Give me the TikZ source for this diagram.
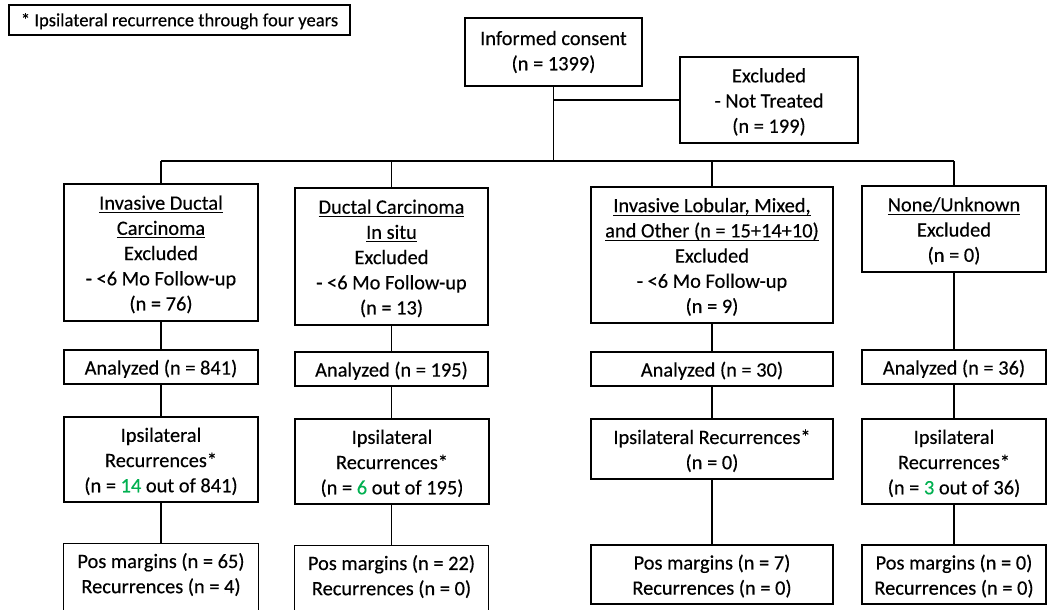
\documentclass[tikz,border=0pt]{standalone}
\usepackage{fontspec}
\setmainfont{Carlito}[FakeBold=0.3]
\definecolor{grn}{HTML}{00B050}
\newcommand\uln[1]{\setbox0\hbox{#1}\rlap{\rule[-3.4pt]{\wd0}{1pt}}\box0}
\newcommand\tb{\rule{0pt}{22.5pt}}
\newcommand\te{\rule[-7.35pt]{0pt}{7.35pt}}
\begin{document}
\begin{tikzpicture}[x=1pt,y=-1pt,
  txt/.style={inner sep=0pt, align=center,
    font=\fontsize{20.4}{25.2}\selectfont},
  box/.style={txt, draw=black, line width=1.1pt},
  conn/.style={draw=black, line width=1.1pt}]
\useasboundingbox (0,0) rectangle (1047,610);
\clip (0,0) rectangle (1047,610);
\fill[white] (0,0) rectangle (1047,610);

% note
\node[box, font=\fontsize{18.6}{22}\selectfont, minimum width=341, minimum height=30] (note) at (179.5,20) {\rule{0pt}{19pt}* Ipsilateral recurrence through four years\rule[-6.5pt]{0pt}{6.5pt}};

% top
\node[box, minimum width=177, minimum height=68] (consent) at (553.5,52) {Informed consent\\(n = 1399)};
\node[box, minimum width=178, minimum height=86] (excl) at (769,100) {\tb Excluded\\- Not Treated\\(n = 199)\te};

\coordinate (bj) at (553.5,100);
\coordinate (bus) at (553.5,161);
\coordinate (b1) at (161,161);
\coordinate (b2) at (391.5,161);
\coordinate (b3) at (712,161);
\coordinate (b4) at (954,161);

% row A
\node[box, minimum width=194, minimum height=137] (idc) at (161,252.5) {\tb\uln{Invasive Ductal}\\\uln{Carcinoma}\\Excluded\\- <6 Mo Follow-up\\(n = 76)\te};
\node[box, minimum width=193, minimum height=137] (dcis) at (391.5,256.5) {\tb\uln{Ductal Carcinoma}\\\uln{In situ}\\Excluded\\- <6 Mo Follow-up\\(n = 13)\te};
\node[box, minimum width=242, minimum height=136] (ilmo) at (712,255) {\tb\uln{Invasive Lobular, Mixed,}\\\uln{and Other (n = 15+14+10)}\\Excluded\\- <6 Mo Follow-up\\(n = 9)\te};
\node[box, minimum width=184, minimum height=86] (none) at (954,229) {\tb\uln{None/Unknown}\\Excluded\\(n = 0)\te};

% row B
\node[box, minimum width=194, minimum height=34] (a1) at (161,367) {\tb Analyzed (n = 841)\te};
\node[box, minimum width=193, minimum height=34] (a2) at (391.5,369) {\tb Analyzed (n = 195)\te};
\node[box, minimum width=242, minimum height=34] (a3) at (712,369) {\tb Analyzed (n = 30)\te};
\node[box, minimum width=184, minimum height=34] (a4) at (954,367) {\tb Analyzed (n = 36)\te};

% row C
\node[box, minimum width=194, minimum height=85] (i1) at (161,459.5) {\tb Ipsilateral\\Recurrences*\\(n = \textcolor{grn}{14} out of 841)\te};
\node[box, minimum width=194, minimum height=85] (i2) at (392,461.5) {\tb Ipsilateral\\Recurrences*\\(n = \textcolor{grn}{6} out of 195)\te};
\node[box, minimum width=242, minimum height=60] (i3) at (712,449) {\tb Ipsilateral Recurrences*\\(n = 0)\te};
\node[box, minimum width=184, minimum height=85] (i4) at (954,461.5) {\tb Ipsilateral\\Recurrences*\\(n = \textcolor{grn}{3} out of 36)\te};

% row D
\node[txt, minimum width=194, minimum height=59] (p1) at (161,573) {\tb Pos margins (n = 65)\\Recurrences (n = 4)\te};
\draw[conn] (p1.north west) rectangle ([yshift=-30pt]p1.south east);
\node[txt, minimum width=193, minimum height=59] (p2) at (391.5,575) {\tb Pos margins (n = 22)\\Recurrences (n = 0)\te};
\draw[conn] (p2.north west) rectangle ([yshift=-30pt]p2.south east);
\node[box, minimum width=242, minimum height=59] (p3) at (712,574.5) {\tb Pos margins (n = 7)\\Recurrences (n = 0)\te};
\node[box, minimum width=184, minimum height=59] (p4) at (954,574.5) {\tb Pos margins (n = 0)\\Recurrences (n = 0)\te};

% connectors
\draw[conn] (consent.south) -- (bus);
\draw[conn] (bj) -- (excl.west);
\draw[conn] (b1) -- (b4);
\draw[conn] (b1) -- (idc.north);
\draw[conn] (b2) -- (dcis.north);
\draw[conn] (b3) -- (ilmo.north);
\draw[conn] (b4) -- (none.north);
\draw[conn] (idc.south) -- (a1.north);
\draw[conn] (dcis.south) -- (a2.north);
\draw[conn] (ilmo.south) -- (a3.north);
\draw[conn] (none.south) -- (a4.north);
\draw[conn] (a1.south) -- (i1.north);
\draw[conn] (a2.south) -- (i2.north -| a2.south);
\draw[conn] (a3.south) -- (i3.north);
\draw[conn] (a4.south) -- (i4.north);
\draw[conn] (i1.south) -- (p1.north);
\draw[conn] (i2.south -| p2.north) -- (p2.north);
\draw[conn] (i3.south) -- (p3.north);
\draw[conn] (i4.south) -- (p4.north);
\end{tikzpicture}
\end{document}
